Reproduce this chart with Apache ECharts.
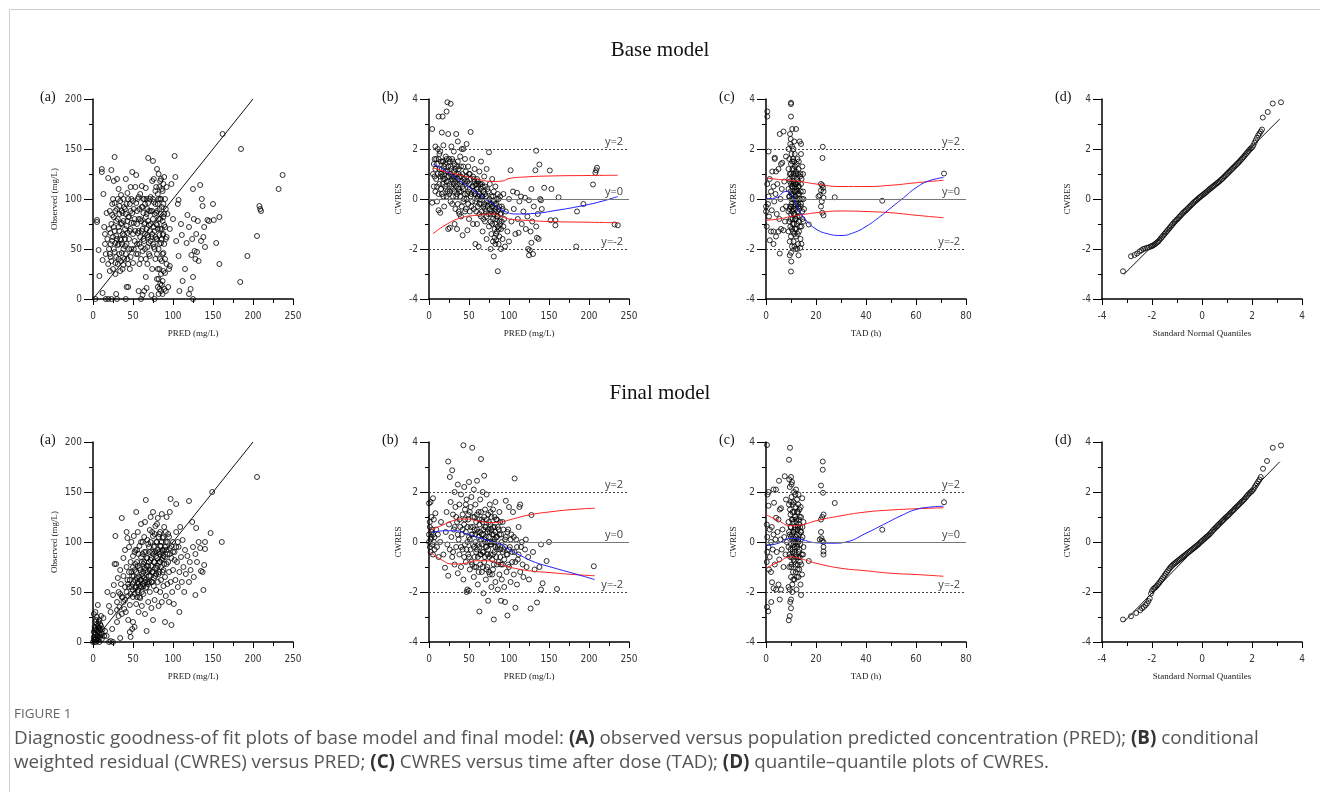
<!DOCTYPE html>
<html>
<head>
<meta charset="utf-8">
<script src="https://cdn.jsdelivr.net/npm/echarts@6/dist/echarts.min.js"></script>
<style>
  html, body { margin: 0; padding: 0; background: #fff; }
  #main { width: 1320px; height: 792px; }
</style>
</head>
<body>
<div id="main"></div>
<script>
// ---- data ----
// base model (a): [PRED, observed]
const baseObs = [[3,0],[5,79],[5,77],[7,49],[8,23],[12,39],[12,6],[11,130],[11,127],[13,105],[14,72],[15,65],[15,55],[16,45],[16,0],[19,0],[19,121],[17,86],[18,60],[19,35],[20,50],[21,28],[22,42],[22,66],[23,129],[23,0],[24,84],[24,58],[25,100],[26,118],[26,72],[27,142],[27,47],[28,36],[28,88],[29,5],[29,63],[30,120],[30,0],[31,80],[31,54],[32,110],[32,40],[33,68],[33,93],[34,28],[35,104],[35,59],[36,76],[36,46],[37,86],[38,34],[38,100],[39,64],[40,90],[40,53],[41,0],[41,120],[42,73],[42,12],[43,40],[43,106],[44,12],[44,82],[45,60],[46,95],[46,30],[47,112],[47,70],[48,50],[49,127],[49,86],[50,98],[50,36],[51,76],[52,58],[53,112],[54,124],[54,45],[55,88],[56,66],[57,8],[57,102],[58,55],[59,80],[60,0],[60,40],[61,113],[61,68],[62,92],[62,4],[63,60],[64,100],[64,8],[65,76],[65,50],[66,111],[66,22],[67,85],[67,11],[68,64],[68,35],[69,141],[69,96],[70,56],[70,74],[71,43],[72,102],[72,88],[73,4],[73,62],[74,118],[74,30],[75,138],[75,80],[76,52],[76,97],[77,0],[77,68],[78,108],[78,40],[79,86],[79,60],[80,130],[80,20],[80,74],[81,95],[81,12],[82,125],[82,50],[82,5],[83,64],[83,112],[83,30],[84,80],[84,15],[84,100],[85,120],[85,56],[85,8],[86,70],[86,38],[86,92],[87,108],[87,18],[87,64],[88,82],[88,46],[88,115],[89,10],[89,74],[90,100],[90,26],[91,60],[92,112],[93,85],[94,12],[95,30],[96,33],[96,70],[98,115],[100,80],[102,143],[103,122],[104,58],[106,95],[107,99],[107,43],[108,8],[110,75],[111,64],[112,18],[115,30],[117,56],[118,84],[120,5],[120,72],[122,10],[123,44],[124,60],[125,110],[125,22],[125,0],[126,80],[127,48],[128,40],[129,65],[130,47],[131,78],[132,38],[134,114],[135,58],[136,100],[137,93],[138,62],[139,72],[140,52],[143,79],[145,78],[150,95],[151,79],[154,56],[158,82],[158,35],[162,165],[184,17],[185,150],[193,43],[205,63],[208,93],[209,90],[210,88],[232,110],[237,124]];
const baseObsCore = [[20,70],[21,45],[21,88],[22,55],[23,75],[23,38],[24,95],[25,62],[25,30],[26,82],[26,50],[27,96],[27,68],[28,56],[28,25],[29,78],[29,42],[30,90],[30,60],[31,35],[31,100],[32,72],[32,55],[33,85],[33,45],[34,60],[34,98],[35,75],[35,38],[36,55],[36,88],[37,65],[37,30],[38,78],[38,50],[39,92],[39,40],[40,70],[40,60],[41,85],[41,45],[42,95],[42,55],[43,78],[43,66],[44,100],[44,35],[45,82],[45,50],[46,68],[47,88],[47,42],[48,76],[48,100],[50,65],[51,90],[51,50],[52,80],[53,68],[54,96],[55,75],[55,55],[56,100],[56,45],[57,80],[57,68],[58,90],[58,35],[59,62],[59,105],[60,78],[60,52],[61,92],[62,70],[62,48],[63,86],[63,100],[64,58],[64,75],[65,95],[65,65],[66,82],[66,40],[67,70],[67,100],[68,90],[68,52],[69,78],[69,62],[70,88],[70,45],[71,68],[71,100],[72,58],[72,75],[74,65],[74,88],[75,100],[75,55],[76,72],[76,120],[77,85],[77,50],[78,95],[78,62],[79,112],[79,75],[80,88],[80,60],[80,45],[81,105],[81,70],[81,30],[82,80],[82,100],[82,20],[83,90],[83,55],[83,10],[84,70],[84,118],[84,40],[85,85],[85,100],[85,25],[86,60],[86,110],[86,14],[87,78],[87,45],[87,5],[88,95],[88,65],[88,28],[89,85],[89,55],[89,122],[90,72],[90,40],[91,90],[91,8],[92,62],[92,35]];

// base model (b): [PRED, CWRES]
const baseResPred = [[4,2.8],[4,-0.15],[6,1.4],[7,0.9],[8,2.1],[8,0.3],[9,1.6],[10,-0.1],[11,2.0],[12,3.3],[12,-0.45],[13,1.2],[13,0.6],[14,-0.55],[14,1.9],[15,1.0],[16,2.66],[16,0.2],[17,3.3],[17,1.5],[18,2.15],[18,0.8],[19,-0.3],[19,1.3],[20,0.5],[21,1.7],[22,3.5],[22,0.1],[23,3.87],[23,1.1],[24,2.6],[24,-1.2],[24,0.7],[25,1.6],[26,-1.15],[26,0.3],[27,3.81],[27,1.3],[28,2.1],[28,0.9],[29,-0.2],[30,1.5],[30,0.4],[31,1.9],[32,-1.0],[32,0.8],[33,1.2],[34,2.6],[34,0.1],[35,-1.2],[35,0.6],[36,2.3],[36,1.5],[37,-0.5],[37,1.0],[38,0.3],[39,1.7],[40,-0.7],[40,0.9],[41,2.0],[42,-1.45],[42,0.5],[43,2.0],[43,1.3],[44,0.0],[45,0.7],[45,1.6],[46,-0.4],[47,2.2],[47,0.9],[48,-1.25],[48,0.2],[49,1.3],[50,0.6],[50,-0.8],[51,1.0],[52,2.68],[52,0.1],[53,-0.3],[54,1.6],[54,0.5],[55,-1.0],[56,0.8],[57,0.2],[57,1.2],[58,-1.8],[58,0.55],[59,-0.5],[60,0.0],[60,-1.0],[61,0.7],[62,-1.9],[62,0.3],[63,1.1],[63,-0.2],[64,0.6],[65,-0.7],[65,1.5],[66,0.1],[67,-1.3],[67,0.5],[68,-0.3],[69,0.9],[70,-0.9],[70,0.2],[71,-0.5],[72,1.2],[72,-1.6],[73,0.4],[74,-0.1],[75,1.87],[75,-1.1],[76,0.6],[77,-0.6],[77,-2.0],[78,0.1],[78,-1.4],[79,-0.3],[79,0.8],[80,-0.8],[80,-1.7],[81,-2.3],[81,0.3],[81,-0.1],[82,-1.55],[82,-0.5],[83,-1.8],[83,0.5],[83,-1.0],[84,-1.65],[84,-0.2],[85,-1.3],[85,0.0],[85,-0.7],[86,-2.89],[86,-1.1],[86,0.2],[87,-0.4],[87,-1.8],[88,-1.5],[88,-0.9],[89,0.1],[89,-0.6],[90,-1.2],[90,-2.0],[91,-0.3],[92,-1.6],[93,0.2],[94,-0.8],[95,-1.9],[96,-0.5],[98,-1.3],[100,0.0],[100,-1.7],[102,1.15],[103,-0.9],[105,0.3],[106,-0.4],[108,-1.4],[110,0.25],[111,-0.8],[112,-1.35],[113,-0.1],[115,0.1],[116,-1.0],[118,-0.5],[120,0.05],[121,-1.2],[123,-0.7],[124,-2.0],[125,-2.25],[125,-0.05],[126,-2.05],[127,-1.3],[128,0.4],[128,-1.75],[129,-0.9],[130,-2.2],[131,-0.3],[133,1.15],[134,1.93],[134,-1.1],[135,-1.55],[136,-0.6],[137,-1.6],[138,1.38],[139,0.0],[140,-0.05],[141,-0.4],[144,0.45],[151,1.14],[152,-0.85],[153,0.4],[158,-0.85],[158,-1.05],[162,0.07],[184,-1.9],[185,-0.5],[193,-0.2],[205,0.58],[208,1.05],[209,1.15],[210,1.25],[232,-1.02],[236,-1.05]];
const baseResPredCore = [[5,1.0],[6,0.5],[7,1.6],[8,1.2],[9,0.8],[10,1.4],[10,0.5],[11,1.0],[12,1.6],[12,0.2],[13,1.8],[14,0.9],[15,0.4],[15,1.5],[16,1.2],[17,0.6],[17,0.9],[18,1.5],[18,0.1],[19,1.0],[20,1.4],[20,0.8],[21,0.4],[21,1.1],[22,1.6],[22,0.7],[23,0.3],[24,1.3],[25,0.9],[25,0.2],[26,1.5],[26,0.6],[27,1.0],[27,-0.1],[28,1.2],[28,0.5],[29,0.8],[29,1.6],[30,0.1],[30,0.9],[31,1.1],[31,0.6],[32,0.3],[32,1.4],[33,0.7],[33,-0.4],[34,1.0],[34,0.5],[35,1.3],[35,0.2],[36,0.8],[36,-0.2],[37,1.2],[37,0.4],[38,0.9],[38,-0.6],[39,0.6],[39,0.1],[40,1.3],[40,0.3],[41,0.7],[41,-0.3],[42,1.0],[43,0.4],[43,-0.1],[44,0.8],[45,0.2],[45,-0.5],[46,1.1],[46,0.6],[47,0.0],[48,0.7],[49,0.3],[49,-0.2],[50,1.0],[51,0.4],[51,-0.5],[52,0.8],[53,0.2],[54,-0.1],[55,0.5],[55,0.9],[56,0.3],[56,-0.4],[57,0.7],[58,0.2],[58,-0.1],[59,0.6],[60,0.4],[60,0.8],[61,0.1],[61,-0.3],[62,0.6],[63,0.2],[63,-0.6],[64,0.0],[65,0.4],[65,-0.2],[66,0.6],[66,-0.5],[67,0.1],[68,0.3],[68,-0.8],[69,-0.2],[70,0.5],[70,-0.4],[71,0.1],[72,-0.1],[72,-0.7],[73,-0.3],[74,0.3],[74,-0.6],[75,-0.2],[76,-0.4],[76,0.0],[77,-0.9],[78,-0.5],[78,-0.2],[79,-1.0],[80,-0.3],[80,0.1],[81,-0.6],[82,-0.2],[82,-1.2],[83,-0.4],[84,-0.8],[84,-1.4],[85,-0.5],[86,-0.7],[87,-1.2],[87,0.0],[88,-0.3],[89,-1.0],[90,-0.6],[91,-0.9],[92,-0.4],[93,-1.1]];
const baseResPredUp = [[5,1.25],[20,1.1],[40,0.95],[60,0.8],[80,0.7],[92,0.72],[100,0.82],[120,0.88],[150,0.92],[200,0.94],[236,0.95]];
const baseResPredLo = [[5,-1.39],[20,-1.05],[40,-0.75],[60,-0.65],[80,-0.6],[92,-0.72],[100,-0.8],[120,-0.85],[150,-0.9],[200,-0.93],[236,-0.95]];
const baseResPredFit = [[5,1.4],[20,1.15],[40,0.7],[60,0.25],[80,-0.2],[95,-0.5],[110,-0.6],[130,-0.58],[160,-0.45],[190,-0.28],[215,-0.1],[236,0.1]];

// base model (c): [TAD, CWRES]
const baseResTad = [[0,-0.3],[0,-0.5],[0.3,-1.1],[0.5,3.5],[0.5,3.3],[0.5,0.6],[0.8,-0.2],[1,1.9],[1,0.1],[1.2,-0.7],[1.5,-1.65],[1.5,0.8],[2,-1.3],[2,0.3],[2.3,-0.45],[2.5,1.1],[3,-1.8],[3,-1.3],[3,0.5],[3.3,-0.1],[3.5,1.6],[3.5,1.65],[3.8,0.2],[4,-1.5],[4,1.1],[4.3,-0.6],[4.5,0.6],[5,-1.3],[5,1.2],[5.3,-0.8],[5.5,-2.18],[5.5,2.6],[5.8,0.0],[6,-1.2],[6,1.4],[6.3,0.4],[6.5,1.45],[6.7,-0.4],[7,-1.25],[7,2.7],[7.3,0.7],[7.6,-0.9],[8,1.7],[8,-0.3],[9,1.2],[9,-0.5],[9,0.4],[9,-1.3],[9,2.0],[9.3,-0.9],[9.3,0.8],[9.3,1.6],[9.5,-2.25],[9.5,-1.7],[9.5,0.1],[9.5,1.0],[9.7,-0.3],[9.7,2.2],[9.7,-1.1],[10,3.85],[10,3.8],[10,3.3],[10,-2.9],[10,-2.15],[10,0.6],[10,1.4],[10,-0.6],[10,-1.5],[10.2,0.2],[10.2,1.8],[10.2,-0.2],[10.4,-1.9],[10.4,0.9],[10.4,2.1],[10.5,2.8],[10.6,-0.8],[10.6,0.5],[10.6,1.2],[10.8,-1.3],[10.8,0.0],[10.8,1.6],[11,-0.4],[11,0.7],[11,-1.7],[11,2.0],[11,1.0],[11.2,-1.0],[11.2,0.3],[11.2,1.5],[11.4,-0.6],[11.4,0.9],[11.4,-1.9],[11.6,0.1],[11.6,1.3],[11.6,-1.2],[11.8,-0.2],[11.8,0.6],[12,2.8],[12,-0.8],[12,1.1],[12,-1.5],[12.2,0.4],[12.2,-0.1],[12.4,0.8],[12.4,-1.0],[12.6,1.6],[12.6,-0.5],[12.8,0.2],[12.8,-1.8],[13,-2.25],[13,0.7],[13,-0.3],[13,1.2],[13.2,-1.3],[13.2,0.5],[13.5,2.3],[13.5,-0.7],[13.5,0.0],[13.8,1.0],[13.8,-1.6],[14,2.2],[14,-0.2],[14,0.6],[14,1.8],[14.2,-1.1],[14.5,-0.5],[14.5,1.3],[14.8,0.3],[15,0.0],[15,-0.9],[21,0.1],[21.5,0.15],[22,0.6],[22,0.35],[22,-0.3],[22.5,0.55],[22.5,-0.55],[22.6,1.64],[22.7,2.09],[23,0.05],[23,-0.65],[23,0.3],[22.8,0.45],[22.3,-0.1],[17.1,-1.02],[27.5,0.07],[46.5,-0.07],[71.2,1.02]];
const baseResTadCore = [[9.2,0.1],[9.4,-0.4],[9.6,0.7],[9.8,-0.8],[9.8,0.3],[10,1.0],[10,-0.3],[10.1,0.0],[10.3,-1.2],[10.3,0.5],[10.5,1.5],[10.5,-0.5],[10.7,0.2],[10.7,-1.0],[10.9,0.6],[10.9,-0.3],[11.1,1.2],[11.1,-0.6],[11.3,0.0],[11.3,-1.4],[11.5,0.5],[11.5,1.8],[11.7,-0.8],[11.7,0.3],[11.9,1.0],[11.9,-0.4],[12.1,-1.2],[12.1,0.6],[12.3,0.0],[12.3,1.4],[12.5,-0.7],[12.5,0.3],[12.7,1.0],[12.7,-1.4],[12.9,-0.2],[12.9,0.5],[13.1,1.5],[13.1,-0.9],[13.3,0.2],[13.3,-0.4],[13.6,0.9],[13.6,-1.1],[13.9,-0.3],[13.9,0.3],[14.2,0.8],[14.2,-1.8],[14.4,0.0],[14.6,-0.8],[14.8,1.0],[15.2,-0.4],[9.6,2.6],[10.1,-2.5],[11.8,-2.0],[12.5,-2.0],[13.7,-1.95],[9.9,2.4],[11.3,2.3]];
const baseResTadUp = [[0,0.85],[5,0.78],[10,0.75],[15,0.68],[20,0.6],[30,0.5],[40,0.5],[50,0.55],[60,0.65],[71,0.75]];
const baseResTadLo = [[0,-0.85],[5,-0.8],[10,-0.7],[15,-0.62],[20,-0.55],[30,-0.48],[40,-0.5],[50,-0.55],[60,-0.65],[71,-0.75]];
const baseResTadFit = [[0,0],[4,0.05],[8,0.3],[10,0.2],[13,-0.4],[16,-0.85],[20,-1.2],[25,-1.4],[30,-1.46],[35,-1.35],[40,-1.1],[45,-0.75],[50,-0.35],[55,0.05],[60,0.45],[65,0.72],[71,0.86]];

// base model (d): [normal quantile, CWRES]
const baseQQ = [[-3.16,-2.89],[-2.84,-2.29],[-2.7,-2.24],[-2.6,-2.18],[-2.5,-2.1],[-2.42,-2.05],[-2.35,-2.0],[-2.28,-1.98],[-2.2,-1.95],[-2.12,-1.93],[-2.05,-1.9],[-2.0,-1.88],[-1.95,-1.85],[-1.9,-1.82],[-1.85,-1.78],[-1.8,-1.74],[-1.75,-1.7],[-1.7,-1.64],[-1.65,-1.58],[-1.6,-1.52],[-1.55,-1.46],[-1.5,-1.4],[-1.45,-1.34],[-1.4,-1.28],[-1.35,-1.22],[-1.3,-1.16],[-1.25,-1.1],[-1.2,-1.04],[-1.15,-0.98],[-1.1,-0.92],[-1.05,-0.87],[-1.0,-0.82],[-0.95,-0.77],[-0.9,-0.71],[-0.85,-0.66],[-0.8,-0.6],[-0.75,-0.55],[-0.7,-0.5],[-0.65,-0.46],[-0.6,-0.41],[-0.55,-0.36],[-0.5,-0.31],[-0.45,-0.26],[-0.4,-0.21],[-0.35,-0.16],[-0.3,-0.11],[-0.25,-0.07],[-0.2,-0.03],[-0.15,0.02],[-0.1,0.06],[-0.05,0.1],[0.0,0.14],[0.05,0.18],[0.1,0.22],[0.15,0.26],[0.2,0.3],[0.25,0.35],[0.3,0.39],[0.35,0.43],[0.4,0.47],[0.45,0.51],[0.5,0.55],[0.55,0.59],[0.6,0.63],[0.65,0.67],[0.7,0.71],[0.75,0.76],[0.8,0.8],[0.85,0.85],[0.9,0.9],[0.95,0.95],[1.0,1.0],[1.05,1.05],[1.1,1.1],[1.15,1.15],[1.2,1.2],[1.25,1.25],[1.3,1.3],[1.35,1.35],[1.4,1.4],[1.45,1.45],[1.5,1.5],[1.55,1.56],[1.6,1.61],[1.65,1.67],[1.7,1.73],[1.75,1.79],[1.8,1.85],[1.85,1.91],[1.9,1.97],[1.95,2.02],[2.0,2.06],[2.05,2.14],[2.1,2.25],[2.15,2.35],[2.2,2.45],[2.25,2.55],[2.3,2.62],[2.35,2.7],[2.4,2.78],[2.43,3.26],[2.63,3.48],[2.83,3.82],[3.16,3.87]];
const baseQQLine = [[-3.13,-3.02],[3.11,3.2]];

// final model (a)
const finalObs = [[0,0],[1,2],[1,10],[1,28],[2,5],[2,15],[2,0],[3,8],[3,20],[3,30],[4,3],[4,12],[4,0],[5,6],[5,18],[5,25],[6,2],[6,10],[6,37],[7,14],[7,4],[8,8],[8,22],[8,0],[9,12],[9,5],[10,16],[10,26],[11,3],[11,9],[12,13],[13,24],[14,6],[15,11],[17,6],[20,0],[22,1],[25,0],[18,50],[20,36],[22,30],[24,13],[25,47],[26,57],[27,78],[28,106],[29,78],[30,40],[30,20],[31,64],[32,50],[33,35],[34,4],[34,72],[35,58],[36,124],[36,28],[37,45],[38,84],[38,66],[39,33],[40,55],[40,92],[41,30],[42,75],[42,110],[43,62],[43,104],[44,22],[44,46],[45,95],[45,70],[46,10],[46,37],[47,5],[47,80],[48,55],[48,100],[49,13],[49,66],[50,20],[50,86],[50,45],[51,106],[51,60],[52,15],[52,72],[53,54],[53,92],[54,130],[54,38],[55,64],[55,80],[56,50],[56,110],[57,58],[57,30],[58,74],[58,96],[59,62],[59,44],[60,85],[60,55],[60,118],[61,68],[61,36],[62,100],[62,58],[63,78],[63,48],[64,90],[64,64],[65,28],[65,120],[66,142],[66,72],[66,54],[67,11],[67,84],[68,102],[68,60],[69,40],[69,76],[70,95],[70,66],[71,112],[71,50],[72,82],[72,125],[73,60],[73,34],[74,90],[74,70],[75,22],[75,106],[75,130],[76,80],[76,56],[77,96],[77,42],[78,66],[78,116],[79,86],[79,52],[80,100],[80,74],[81,60],[81,124],[82,90],[82,36],[83,108],[83,70],[84,80],[84,50],[85,96],[85,62],[86,128],[86,40],[87,84],[87,104],[88,72],[88,56],[89,115],[89,92],[90,20],[90,65],[91,100],[91,46],[92,78],[92,125],[93,88],[93,58],[94,108],[95,70],[95,40],[96,94],[96,130],[97,143],[97,60],[98,17],[98,84],[99,50],[100,100],[100,72],[101,38],[102,90],[103,62],[104,138],[104,110],[105,80],[106,55],[107,95],[108,30],[108,70],[109,115],[110,85],[111,60],[112,102],[113,75],[114,50],[115,92],[116,68],[118,86],[120,141],[120,60],[121,80],[122,72],[124,120],[125,95],[126,65],[128,88],[128,47],[129,114],[130,80],[132,100],[134,94],[135,71],[137,70],[138,52],[139,77],[140,93],[140,100],[147,109],[149,150],[161,100],[205,165]];
const finalObsCore = [[45,55],[46,62],[47,48],[48,70],[49,58],[50,52],[50,75],[51,66],[52,48],[52,90],[53,62],[53,78],[54,55],[54,70],[55,45],[55,92],[56,60],[56,76],[57,52],[57,88],[58,65],[58,45],[59,72],[59,56],[60,62],[60,100],[61,50],[61,80],[62,66],[62,88],[63,56],[63,70],[64,80],[64,105],[65,60],[65,74],[66,90],[66,62],[67,55],[67,76],[68,84],[68,70],[69,58],[69,98],[70,80],[70,60],[71,72],[71,90],[72,66],[72,100],[73,84],[73,76],[74,60],[74,110],[75,88],[75,70],[76,95],[76,64],[77,80],[77,108],[78,90],[78,74],[79,100],[79,68],[80,84],[80,118],[81,92],[81,76],[82,105],[82,68],[83,88],[83,80],[84,96],[84,110],[85,75],[85,90],[86,100],[86,82],[87,70],[87,92],[88,86],[88,105],[89,78],[90,95],[90,85],[91,110],[92,92],[93,100],[94,80],[95,105],[96,88],[98,96],[100,90],[102,82],[104,95],[106,100],[40,42],[42,50],[38,40],[36,45],[44,58],[34,48],[30,32],[32,26],[1,5],[2,12],[3,14],[4,22],[5,12],[6,16],[7,20],[8,14],[9,18],[10,7],[3,3],[6,6]];

// final model (b)
const finalResPred = [[0,0.0],[0,1.55],[0,0.3],[1,-0.2],[1,0.6],[1,0.8],[2,0.1],[2,1.6],[2,-0.4],[3,1.0],[3,0.4],[3,0.2],[4,-0.1],[4,0.5],[5,1.75],[5,0.3],[5,-0.5],[6,0.0],[6,0.9],[7,0.2],[7,-0.3],[8,1.15],[9,0.5],[10,-0.2],[11,0.3],[12,-0.6],[14,0.0],[15,0.8],[18,-0.5],[20,-1.03],[21,0.4],[22,1.2],[23,-0.1],[24,-1.35],[24,3.22],[25,0.7],[26,-0.3],[26,2.6],[27,1.6],[28,0.2],[29,2.87],[29,-0.6],[30,1.1],[31,0.5],[32,-0.9],[32,2.0],[33,1.4],[34,-0.2],[35,0.8],[36,-1.25],[36,2.3],[37,0.1],[38,1.5],[38,-0.5],[39,0.6],[40,-1.0],[40,1.9],[41,0.3],[42,-0.3],[42,1.1],[43,3.87],[43,-1.5],[44,0.7],[44,2.2],[45,-0.1],[45,1.3],[46,-0.8],[46,0.4],[47,-2.0],[47,1.7],[48,-1.9],[48,0.0],[49,0.9],[49,-0.5],[50,2.4],[50,-1.95],[50,0.2],[51,1.2],[51,-1.1],[52,0.6],[52,-0.3],[53,1.8],[53,-0.8],[54,3.77],[54,0.3],[55,-0.1],[55,1.0],[56,-1.4],[56,2.1],[57,0.5],[57,-0.6],[58,1.5],[58,0.0],[59,-1.0],[59,0.8],[60,2.45],[60,-0.3],[61,0.4],[61,-1.7],[62,1.2],[62,-0.1],[63,-2.78],[63,0.7],[64,-0.5],[64,1.7],[65,3.32],[65,0.1],[66,-1.2],[66,0.9],[67,-0.4],[67,2.0],[68,-2.05],[68,0.3],[69,2.65],[69,-0.8],[70,1.3],[70,0.0],[71,-1.5],[71,0.6],[72,-0.2],[72,1.9],[73,-1.0],[73,0.4],[74,-2.35],[74,1.1],[75,-0.6],[75,0.2],[76,1.5],[76,-1.3],[77,0.7],[77,-0.1],[78,-1.8],[78,1.0],[79,0.3],[79,-0.7],[80,-1.1],[80,1.3],[81,-3.1],[81,0.0],[82,0.6],[82,-0.4],[83,-1.6],[83,1.6],[84,0.2],[85,-0.9],[85,0.9],[86,-1.9],[86,-0.2],[87,0.5],[88,-1.3],[88,1.2],[89,-0.6],[90,-2.35],[90,0.3],[91,-1.5],[92,0.8],[92,-0.9],[93,-0.3],[94,-1.8],[95,-2.4],[95,0.1],[96,1.65],[97,-1.2],[98,-2.94],[98,-0.5],[99,0.5],[100,-1.0],[100,1.4],[101,-0.2],[102,-1.6],[103,0.3],[104,-0.8],[105,1.2],[106,-1.3],[107,2.54],[107,-0.4],[108,-2.63],[109,0.1],[110,-1.7],[111,-0.7],[112,0.6],[113,1.4],[114,1.5],[114,-1.2],[115,-0.2],[116,0.0],[117,-0.9],[118,-1.4],[120,-0.3],[121,0.1],[122,-1.0],[124,-0.6],[125,-1.5],[127,-2.66],[128,1.08],[130,-0.4],[132,-1.1],[135,-2.42],[138,-1.0],[140,-0.1],[140,-1.9],[142,-1.65],[147,-0.76],[150,0.0],[160,-1.88],[206,-0.97]];
const finalResPredCore = [[30,-0.4],[32,0.6],[34,1.0],[36,0.3],[38,0.9],[40,-0.2],[42,0.5],[44,-0.6],[45,0.9],[46,1.5],[47,-0.3],[48,0.6],[49,1.1],[50,-0.6],[51,0.1],[52,1.4],[53,0.3],[54,-0.9],[55,0.6],[56,-0.2],[57,1.0],[57,-1.0],[58,0.3],[59,-0.4],[60,1.1],[60,0.5],[61,-0.6],[62,0.2],[62,-1.2],[63,0.9],[63,-0.2],[64,0.4],[64,-0.9],[65,1.2],[65,-0.5],[66,0.3],[66,-0.1],[67,0.8],[67,-1.0],[68,0.5],[68,-0.4],[69,0.1],[69,1.0],[70,-0.6],[70,0.6],[71,0.2],[71,-0.2],[72,0.9],[72,-1.1],[73,-0.5],[73,0.0],[74,0.5],[74,-0.3],[75,0.8],[75,-1.2],[76,0.0],[76,0.4],[77,-0.5],[77,1.2],[78,-0.1],[78,0.5],[79,-1.3],[79,0.0],[80,0.6],[80,-0.5],[81,0.3],[81,-0.9],[82,0.1],[82,1.0],[83,-0.2],[83,0.4],[84,-0.6],[84,0.9],[85,0.2],[85,-0.3],[86,0.6],[87,-0.8],[87,-0.1],[88,0.3],[89,-0.3],[89,0.8],[90,-0.9],[91,0.0],[92,-0.4],[93,0.5],[94,-0.7],[95,-0.2],[96,0.2],[97,-0.5],[98,0.4],[99,-0.9],[100,-0.3],[102,0.1],[104,-0.4],[106,0.2],[108,-0.8],[110,-0.2],[112,-0.5]];
const finalResPredUp = [[2,0.48],[15,0.65],[30,0.85],[45,0.92],[60,0.85],[75,0.78],[90,0.8],[100,0.88],[125,1.08],[150,1.2],[180,1.3],[207,1.35]];
const finalResPredLo = [[2,-0.4],[15,-0.7],[30,-0.88],[45,-0.85],[60,-0.75],[75,-0.75],[90,-0.9],[100,-1.0],[125,-1.15],[150,-1.22],[180,-1.3],[207,-1.35]];
const finalResPredFit = [[3,0.37],[20,0.45],[35,0.45],[45,0.35],[60,0.2],[75,0.05],[90,-0.1],[100,-0.3],[115,-0.55],[130,-0.78],[150,-0.98],[180,-1.25],[207,-1.5]];

// final model (c)
const finalResTad = [[0.4,3.88],[0.3,0.7],[0.3,-0.8],[0.4,-2.6],[0.5,0.2],[0.5,-0.4],[0.6,1.9],[0.9,-2.77],[1,2.0],[1,1.45],[1,-0.2],[1.2,-1.1],[1.5,0.5],[1.5,-0.6],[2,0.0],[2,-1.2],[2.1,-2.4],[2.3,0.6],[2.4,-1.61],[2.7,-0.3],[3,2.1],[3,-1.85],[3,0.3],[3.2,1.57],[3.5,-0.9],[3.8,0.1],[4,2.1],[4,0.97],[4,-1.9],[4.3,-0.4],[4.6,0.4],[5,0.9],[5,-1.7],[5.2,2.45],[5.3,-0.7],[5.5,1.3],[5.5,-2.3],[5.8,0.1],[6,1.35],[6,-1.9],[6.3,-0.3],[6.6,0.5],[7,-1.0],[7.3,0.2],[7.5,2.63],[7.8,-0.5],[8,1.7],[8.3,0.0],[9,-1.8],[9,0.8],[9,-0.2],[9.1,-3.13],[9.2,3.29],[9.2,1.5],[9.3,-1.0],[9.5,-2.96],[9.5,0.3],[9.5,2.2],[9.6,3.77],[9.7,-0.6],[9.8,1.1],[10,-2.65],[10,-2.3],[10,2.6],[10,-1.4],[10,0.6],[10,-0.1],[10.2,1.8],[10.2,-0.9],[10.4,0.3],[10.4,2.4],[10.5,-1.7],[10.6,-0.4],[10.6,1.2],[10.8,0.9],[10.8,-1.2],[11,0.0],[11,1.6],[11,-0.7],[11.2,2.0],[11.2,0.4],[11.4,-1.5],[11.4,-0.2],[11.6,1.0],[11.6,0.6],[11.8,-0.9],[11.8,1.4],[12,-0.5],[12,0.2],[12,2.1],[12.2,-1.9],[12.2,0.8],[12.4,-0.1],[12.4,1.7],[12.6,-1.1],[12.6,0.5],[12.8,1.2],[12.8,-0.6],[13,0.0],[13,1.9],[13,-1.4],[13.2,0.7],[13.4,-0.3],[13.4,1.3],[13.6,-0.8],[13.8,0.4],[13.8,-1.7],[14,-2.12],[14,1.0],[14,0.1],[14.3,-0.5],[14.5,1.75],[14.6,0.6],[15,0.8],[15,-0.2],[21.5,0.1],[22,2.26],[22,0.9],[22,0.4],[22.2,0.15],[22.5,1.0],[22.7,3.22],[22.7,2.89],[22.8,1.97],[23,1.1],[23,0.0],[23,-0.2],[23,-0.38],[23,-0.5],[22.4,0.05],[17.1,-0.76],[27.5,1.56],[46.5,0.49],[71.2,1.59]];
const finalResTadCore = [[9.2,0.4],[9.4,-0.5],[9.6,1.3],[9.8,-0.3],[9.8,0.6],[10,0.2],[10,1.6],[10.1,-1.0],[10.3,-0.6],[10.3,0.9],[10.5,0.1],[10.5,-2.0],[10.7,1.5],[10.7,-0.3],[10.9,0.4],[10.9,-1.5],[11.1,-0.1],[11.1,0.8],[11.3,1.2],[11.3,-0.8],[11.5,0.1],[11.5,-0.4],[11.7,1.9],[11.7,0.5],[11.9,-1.2],[11.9,0.0],[12.1,0.9],[12.1,-0.6],[12.3,0.3],[12.3,-1.4],[12.5,1.2],[12.5,-0.2],[12.7,0.6],[12.7,-0.9],[12.9,1.5],[12.9,0.1],[13.1,-0.4],[13.1,0.9],[13.3,-1.1],[13.3,0.3],[13.5,1.0],[13.5,-0.6],[13.7,0.6],[13.7,-0.1],[13.9,1.4],[14.1,-0.9],[14.1,0.4],[14.4,-1.3],[14.6,0.2],[14.8,-0.5],[9.3,2.5],[9.7,-2.4],[10.2,2.3],[9.5,-1.9]];
const finalResTadUp = [[0,1.1],[5,0.85],[10,0.65],[15,0.7],[20,0.85],[30,1.05],[40,1.2],[50,1.28],[60,1.33],[71,1.37]];
const finalResTadLo = [[0,-1.05],[5,-0.8],[10,-0.6],[15,-0.7],[20,-0.85],[30,-1.05],[40,-1.15],[50,-1.25],[60,-1.3],[71,-1.37]];
const finalResTadFit = [[0,-0.15],[5,-0.05],[10,0.15],[14,0.1],[20,-0.03],[27,-0.05],[32,0.0],[40,0.35],[47,0.7],[54,1.05],[60,1.3],[66,1.4],[71,1.43]];

// final model (d)
const finalQQ = [[-3.16,-3.1],[-2.84,-2.97],[-2.63,-2.84],[-2.47,-2.73],[-2.4,-2.65],[-2.33,-2.6],[-2.26,-2.53],[-2.2,-2.46],[-2.14,-2.36],[-2.09,-2.26],[-2.04,-2.06],[-2.0,-1.96],[-1.95,-1.88],[-1.9,-1.84],[-1.85,-1.8],[-1.8,-1.74],[-1.75,-1.68],[-1.7,-1.62],[-1.65,-1.55],[-1.6,-1.48],[-1.55,-1.41],[-1.5,-1.34],[-1.45,-1.27],[-1.4,-1.2],[-1.35,-1.13],[-1.3,-1.06],[-1.25,-1.0],[-1.2,-0.95],[-1.15,-0.9],[-1.1,-0.86],[-1.05,-0.82],[-1.0,-0.78],[-0.95,-0.74],[-0.9,-0.7],[-0.85,-0.66],[-0.8,-0.62],[-0.75,-0.58],[-0.7,-0.54],[-0.65,-0.5],[-0.6,-0.46],[-0.55,-0.42],[-0.5,-0.38],[-0.45,-0.34],[-0.4,-0.3],[-0.35,-0.26],[-0.3,-0.22],[-0.25,-0.18],[-0.2,-0.14],[-0.15,-0.1],[-0.1,-0.05],[-0.05,0.0],[0.0,0.04],[0.05,0.09],[0.1,0.13],[0.15,0.18],[0.2,0.22],[0.25,0.26],[0.3,0.31],[0.35,0.36],[0.4,0.42],[0.45,0.48],[0.5,0.53],[0.55,0.58],[0.6,0.63],[0.65,0.68],[0.7,0.73],[0.75,0.78],[0.8,0.83],[0.85,0.88],[0.9,0.93],[0.95,0.98],[1.0,1.02],[1.05,1.07],[1.1,1.12],[1.15,1.17],[1.2,1.22],[1.25,1.27],[1.3,1.32],[1.35,1.37],[1.4,1.42],[1.45,1.47],[1.5,1.52],[1.55,1.57],[1.6,1.62],[1.65,1.67],[1.7,1.72],[1.75,1.78],[1.8,1.84],[1.85,1.9],[1.9,1.95],[1.95,2.0],[2.0,2.04],[2.05,2.1],[2.1,2.18],[2.15,2.26],[2.2,2.34],[2.25,2.42],[2.3,2.5],[2.35,2.6],[2.44,2.93],[2.6,3.24],[2.83,3.77],[3.16,3.86]];
const finalQQLine = [[-3.13,-3.2],[3.11,3.21]];

const identityLine = [[0,0],[200,200]];
const refLines = [2, 0, -2];

// ---- layout ----
const gridLefts = [93, 429, 766, 1102];
const gridTops = [99, 442];
const panelLetters = ['(a)', '(b)', '(c)', '(d)'];
const axisSpec = [
  { xMin: 0, xMax: 250, xInt: 50, yMin: 0, yMax: 200, yInt: 50, xName: 'PRED (mg/L)', yName: 'Observed (mg/L)', yGap: 34 },
  { xMin: 0, xMax: 250, xInt: 50, yMin: -4, yMax: 4, yInt: 2, xName: 'PRED (mg/L)', yName: 'CWRES', yGap: 26 },
  { xMin: 0, xMax: 80, xInt: 20, yMin: -4, yMax: 4, yInt: 2, xName: 'TAD (h)', yName: 'CWRES', yGap: 28 },
  { xMin: -4, xMax: 4, xInt: 2, yMin: -4, yMax: 4, yInt: 2, xName: 'Standard Normal Quantiles', yName: 'CWRES', yGap: 30 }
];

const tickFont = "'Liberation Sans Narrow','DejaVu Sans Condensed',sans-serif";
const serif = "'Liberation Serif','DejaVu Serif',serif";

const grids = [], xAxes = [], yAxes = [], series = [];
const graphics = [];

function axisBase(min, max, interval) {
  return {
    min: min, max: max, interval: interval,
    splitLine: { show: false },
    axisLine: { onZero: false, lineStyle: { color: '#000', width: 1.5 } },
    axisTick: { length: 6, lineStyle: { color: '#000', width: 1 } },
    minorTick: { show: true, splitNumber: 2, length: 4, lineStyle: { color: '#000', width: 1 } },
    axisLabel: { color: '#333', fontSize: 10, fontFamily: tickFont },
    nameTextStyle: { color: '#222', fontSize: 9, fontFamily: serif }
  };
}

function scatter(idx, data) {
  series.push({
    type: 'scatter', xAxisIndex: idx, yAxisIndex: idx, data: data,
    symbol: 'circle', symbolSize: 5,
    itemStyle: { color: 'rgba(0,0,0,0)', borderColor: '#000', borderWidth: 1 },
    silent: true
  });
  return series[series.length - 1];
}

function line(idx, data, color, smooth, width) {
  series.push({
    type: 'line', xAxisIndex: idx, yAxisIndex: idx, data: data,
    symbol: 'none', smooth: smooth, silent: true,
    lineStyle: { color: color, width: width || 1 }, z: 3
  });
}

function addRefLines(s) {
  s.markLine = {
    silent: true, symbol: ['none', 'none'],
    data: refLines.map(v => ({
      yAxis: v,
      lineStyle: { type: v === 0 ? 'solid' : [2, 2], color: v === 0 ? '#777' : '#444', width: 1 },
      label: { formatter: 'y=' + v, position: 'insideEndTop', distance: [6, 2], color: '#444', fontSize: 11, fontFamily: "'Open Sans',sans-serif" }
    }))
  };
}

const rows = [
  { title: 'Base model', titleY: 50, obs: baseObs.concat(baseObsCore), rp: baseResPred.concat(baseResPredCore),
    rpU: baseResPredUp, rpL: baseResPredLo, rpF: baseResPredFit,
    rt: baseResTad.concat(baseResTadCore), rtU: baseResTadUp, rtL: baseResTadLo, rtF: baseResTadFit, qq: baseQQ, qqLine: baseQQLine },
  { title: 'Final model', titleY: 393, obs: finalObs.concat(finalObsCore), rp: finalResPred.concat(finalResPredCore),
    rpU: finalResPredUp, rpL: finalResPredLo, rpF: finalResPredFit,
    rt: finalResTad.concat(finalResTadCore), rtU: finalResTadUp, rtL: finalResTadLo, rtF: finalResTadFit, qq: finalQQ, qqLine: finalQQLine }
];

rows.forEach((row, r) => {
  for (let c = 0; c < 4; c++) {
    const idx = r * 4 + c;
    const a = axisSpec[c];
    grids.push({ left: gridLefts[c], top: gridTops[r], width: 200, height: 200 });
    const xa = axisBase(a.xMin, a.xMax, a.xInt);
    xa.type = 'value'; xa.gridIndex = idx;
    xa.name = a.xName; xa.nameLocation = 'middle'; xa.nameGap = 30;
    xa.axisLabel.margin = 12;
    xAxes.push(xa);
    const ya = axisBase(a.yMin, a.yMax, a.yInt);
    ya.type = 'value'; ya.gridIndex = idx;
    ya.name = a.yName; ya.nameLocation = 'middle'; ya.nameGap = a.yGap; ya.nameRotate = 90;
    ya.axisTick.length = 9;
    ya.axisLabel.margin = 11;
    yAxes.push(ya);
    graphics.push({
      type: 'text', left: gridLefts[c] - 55 + (c === 0 ? 2 : 8), top: gridTops[r] - 9,
      style: { text: panelLetters[c], font: '14px ' + serif, fill: '#111' }
    });
  }
  const b = r * 4;
  line(b, identityLine, '#111', false, 1);
  scatter(b, row.obs);
  addRefLines(scatter(b + 1, row.rp));
  line(b + 1, row.rpU, '#ff2020', true);
  line(b + 1, row.rpL, '#ff2020', true);
  line(b + 1, row.rpF, '#2020ff', true);
  addRefLines(scatter(b + 2, row.rt));
  line(b + 2, row.rtU, '#ff2020', true);
  line(b + 2, row.rtL, '#ff2020', true);
  line(b + 2, row.rtF, '#2020ff', true);
  scatter(b + 3, row.qq);
  line(b + 3, row.qqLine, '#111', false, 1);
  graphics.push({
    type: 'text', x: 660, y: row.titleY,
    style: { text: row.title, font: '21px ' + serif, fill: '#111', align: 'center', verticalAlign: 'middle' }
  });
});

// frame and caption
graphics.push({ type: 'line', shape: { x1: 9.5, y1: 9.5, x2: 1320, y2: 9.5 }, style: { stroke: '#d0d0d0', lineWidth: 1 } });
graphics.push({ type: 'line', shape: { x1: 9.5, y1: 9.5, x2: 9.5, y2: 792 }, style: { stroke: '#d0d0d0', lineWidth: 1 } });
graphics.push({
  type: 'text', left: 14, top: 707,
  style: { text: 'FIGURE 1', font: '13.5px "Open Sans",sans-serif', fill: '#666' }
});
const capRich = { b: { fontWeight: 'bold', fill: '#333', fontSize: 18.8, fontFamily: "'Open Sans',sans-serif" } };
graphics.push({
  type: 'text', left: 14, top: 727,
  style: {
    text: 'Diagnostic goodness-of fit plots of base model and final model: {b|(A)} observed versus population predicted concentration (PRED); {b|(B)} conditional\nweighted residual (CWRES) versus PRED; {b|(C)} CWRES versus time after dose (TAD); {b|(D)} quantile\u2013quantile plots of CWRES.',
    fontSize: 18.8, fontFamily: "'Open Sans',sans-serif", fill: '#555', lineHeight: 24, rich: capRich
  }
});

const chart = echarts.init(document.getElementById('main'));
chart.setOption({
  animation: false,
  backgroundColor: '#fff',
  grid: grids,
  xAxis: xAxes,
  yAxis: yAxes,
  series: series,
  graphic: graphics
});
</script>
</body>
</html>
